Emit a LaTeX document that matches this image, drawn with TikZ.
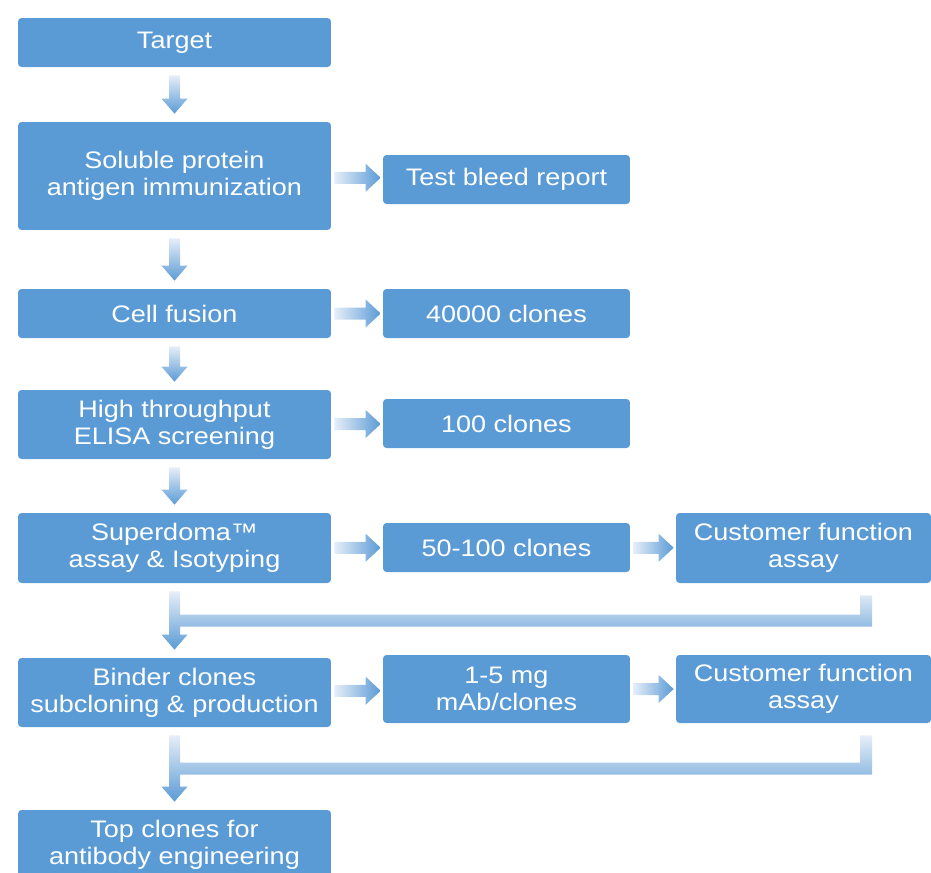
\documentclass[tikz,border=0pt]{standalone}
\usepackage{fontspec}
\setmainfont{Liberation Sans}[FakeStretch=1.13]
\usetikzlibrary{calc}
\definecolor{boxblue}{HTML}{5B9BD5}
\definecolor{arrlight}{HTML}{E6EEF8}

% down arrow between two stacked boxes
\newcommand\dnarrow[2]{%
  \shade[top color=arrlight,bottom color=boxblue]
    ($(#1.south)+(-5.5,8)$) -- ($(#1.south)+(5.5,8)$) -- ($(#2.north)+(5.5,-23)$)
    -- ($(#2.north)+(13,-23)$) -- ($(#2.north)+(0,-8)$) -- ($(#2.north)+(-13,-23)$)
    -- ($(#2.north)+(-5.5,-23)$) -- cycle;}
% right arrow between two boxes in a row
\newcommand\rtarrow[2]{%
  \coordinate (m) at ($(#1.east)!.5!(#2.west)$);
  \shade[left color=arrlight,right color=boxblue]
    ($(#1.east|-m)+(3,-6)$) -- ($(#2.west|-m)+(-17,-6)$) -- ($(#2.west|-m)+(-17,-14)$)
    -- ($(#2.west|-m)+(-2,0)$) -- ($(#2.west|-m)+(-17,14)$) -- ($(#2.west|-m)+(-17,6)$)
    -- ($(#1.east|-m)+(3,6)$) -- cycle;}
% return line: source box, customer box, next box
\newcommand\fbarrow[3]{%
  \coordinate (k) at ($(#1.south)!.5!(#3.north)$);
  \coordinate (r) at ($(#2.south)+(62.5,12)$);
  \shade[top color=arrlight,bottom color=boxblue]
    ($(#1.south)+(-5.5,8)$) -- ($(#1.south)+(5.5,8)$) -- ($(#1.south|-k)+(5.5,-6)$)
    -- ($(r|-k)+(-6,-6)$) -- ($(r)+(-6,0)$) -- ($(r)+(6,0)$) -- ($(r|-k)+(6,6)$)
    -- ($(#1.south|-k)+(5.5,6)$) -- ($(#3.north)+(5.5,-23)$) -- ($(#3.north)+(13,-23)$)
    -- ($(#3.north)+(0,-8)$) -- ($(#3.north)+(-13,-23)$) -- ($(#3.north)+(-5.5,-23)$)
    -- cycle;}

\begin{document}
\begin{tikzpicture}[x=0.02cm,y=-0.02cm]
\tikzset{box/.style={fill=boxblue,rounded corners=2pt,text=white,inner sep=0pt,
    align=center,font=\fontsize{13.6}{15.3}\selectfont},
  mainbox/.style={box,minimum width=6.26cm},
  sidebox/.style={box,minimum width=4.94cm},
  custbox/.style={box,minimum width=5.1cm}}
\useasboundingbox (0,0) rectangle (931,873);
% ---- main column ----
\node[mainbox,minimum height=0.98cm] (target) at (174.5,42.5) {Target};
\node[mainbox,minimum height=2.16cm] (soluble) at (174.5,176) {Soluble protein\\antigen immunization};
\node[mainbox,minimum height=0.98cm] (fusion) at (174.5,313.5) {Cell fusion};
\node[mainbox,minimum height=1.38cm] (elisa) at (174.5,424.5) {High throughput\\ELISA screening};
\node[mainbox,minimum height=1.4cm] (superdoma) at (174.5,548) {Superdoma™\\assay \& Isotyping};
\node[mainbox,minimum height=1.38cm] (binder) at (174.5,692.5) {Binder clones\\subcloning \& production};
\node[mainbox,minimum height=1.38cm] (topclones) at (174.5,844.5) {Top clones for\\antibody engineering};
% ---- side column ----
\node[sidebox,minimum height=0.98cm] (bleed) at (506.5,179.5) {Test bleed report};
\node[sidebox,minimum height=0.98cm] (c40000) at (506.5,313.5) {40000 clones};
\node[sidebox,minimum height=0.98cm] (c100) at (506.5,423.5) {100 clones};
\node[sidebox,minimum height=0.98cm] (c50) at (506.5,547.5) {50-100 clones};
\node[sidebox,minimum height=1.36cm] (mg) at (506.5,689) {1-5 mg\\mAb/clones};
\node[custbox,minimum height=1.4cm] (cust1) at (803.5,548) {Customer function\\assay};
\node[custbox,minimum height=1.36cm] (cust2) at (803.5,689) {Customer function\\assay};
% ---- arrows ----
\dnarrow{target}{soluble}
\dnarrow{soluble}{fusion}
\dnarrow{fusion}{elisa}
\dnarrow{elisa}{superdoma}
\rtarrow{soluble}{bleed}
\rtarrow{fusion}{c40000}
\rtarrow{elisa}{c100}
\rtarrow{superdoma}{c50}
\rtarrow{c50}{cust1}
\rtarrow{binder}{mg}
\rtarrow{mg}{cust2}
\fbarrow{superdoma}{cust1}{binder}
\fbarrow{binder}{cust2}{topclones}
\end{tikzpicture}
\end{document}
